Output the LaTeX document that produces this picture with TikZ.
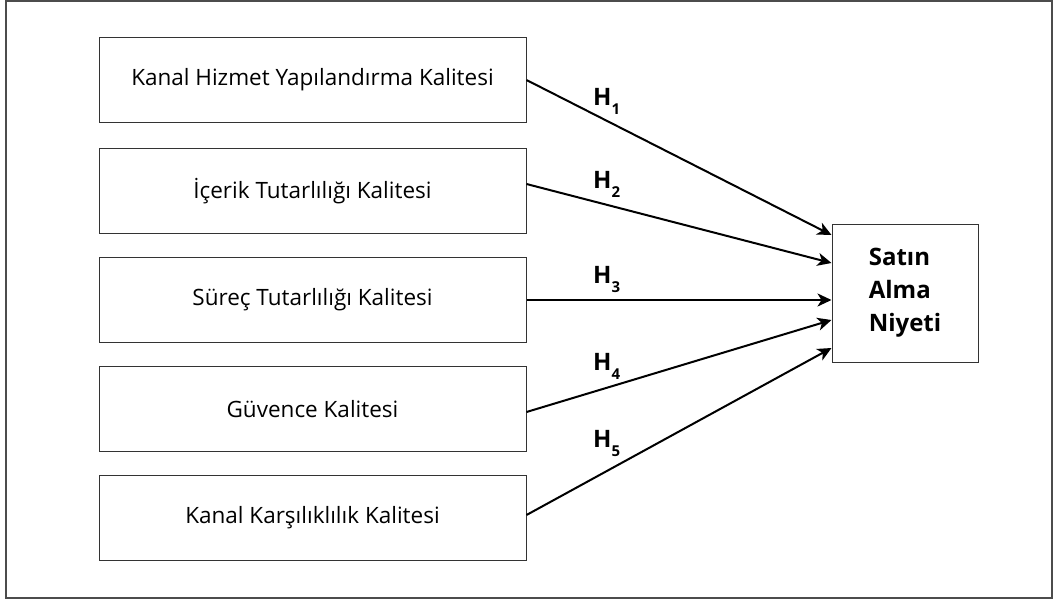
\documentclass[tikz,border=0pt]{standalone}
\usepackage{fontspec}
\setmainfont{Open Sans}
\usetikzlibrary{arrows.meta}

\tikzset{
  factorbox/.style={draw=black!80, line width=1pt, minimum width=427pt, minimum height=85pt, inner sep=0pt, font=\fontsize{22.5}{27}\selectfont},
  resultbox/.style={draw=black!80, line width=1pt, minimum width=146pt, minimum height=138pt, inner sep=0pt, align=left, font=\bfseries\fontsize{24}{33}\selectfont},
  hyparrow/.style={line width=2pt, -{Stealth[length=14pt, width=13pt, inset=4pt]}},
  hyplabel/.style={anchor=base west, inner sep=0pt, font=\bfseries\fontsize{24}{27}\selectfont}
}
\newcommand{\hyp}[1]{H\raisebox{-0.4em}{\fontsize{15}{15}\selectfont #1}}

\begin{document}
\begin{tikzpicture}[x=1pt,y=-1pt]
\useasboundingbox (0,0) rectangle (1063,603);
\draw[black!70, line width=1.5pt] (6,1) rectangle (1052,598);

% Define the quality dimensions on the left
\foreach \i/\y/\txt in {1/80/{Kanal Hizmet Yapılandırma Kalitesi},
                        2/191/{İçerik Tutarlılığı Kalitesi},
                        3/300/{Süreç Tutarlılığı Kalitesi},
                        4/409/{Güvence Kalitesi},
                        5/518/{Kanal Karşılıklılık Kalitesi}}
\node[factorbox] (q\i) at (312.5,\y) {\txt};

% Define the outcome on the right
\node[resultbox] (niyet) at (905,293) {Satın\\Alma\\Niyeti};

% Draw the hypothesised paths
\foreach \i/\a/\b in {1/0/58, 2/7/30, 3/0/-7, 4/-3/-27, 5/3/-55}
\draw[hyparrow] ([yshift=\a pt]q\i.east) -- ([yshift=\b pt]niyet.west);

% Path labels
\foreach \i/\y in {1/105, 2/188, 3/283, 4/370, 5/447}
\node[hyplabel] (h\i) at (593,\y) {\hyp{\i}};
\end{tikzpicture}
\end{document}
